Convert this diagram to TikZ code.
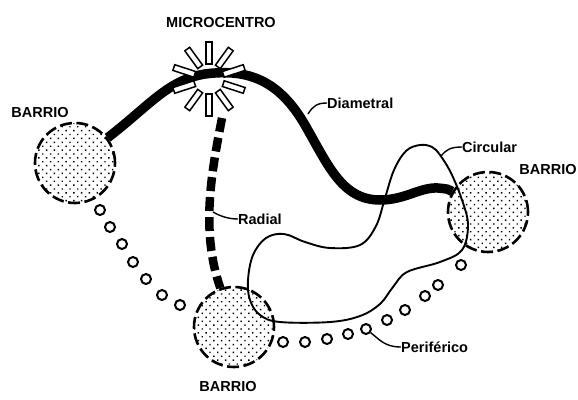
\documentclass[tikz,border=0pt]{standalone}
\usepackage{fontspec}
\setmainfont{Liberation Sans}
\usetikzlibrary{patterns.meta,calc}
\begin{document}
\begin{tikzpicture}[x=1pt,y=-1pt,
  barrio/.style={circle, draw, line width=2.6pt, dash pattern=on 12pt off 4.5pt,
    minimum size=80pt, inner sep=0pt,
    pattern={Dots[distance=5.5pt,radius=1pt,angle=45]}},
  lbl/.style={font=\bfseries\fontsize{14.5}{14.5}\selectfont, inner sep=0pt},
  ring/.style={circle, draw, line width=2pt, fill=white, minimum size=10pt, inner sep=0pt},
  rayb/.style={rectangle, draw, line width=1.5pt, fill=white, minimum width=22pt, minimum height=6pt, inner sep=0pt},
  diam/.style={line width=9.5pt, line cap=butt},
  radl/.style={line width=8.5pt, dash pattern=on 14pt off 6pt},
  thin/.style={line width=1.9pt, line join=round},
  leader/.style={line width=1.4pt}
]
\useasboundingbox (0,0) rectangle (578,399);

% barrios
\node[barrio] (bl) at (75,163) {};
\node[barrio] (bb) at (234,327) {};
\node[barrio] (br) at (488,212) {};

% labels
\node[lbl] (tmc) at (221,23) {MICROCENTRO};
\node[lbl] (tbl) at (40,113) {BARRIO};
\node[lbl] (tbb) at (228,387) {BARRIO};
\node[lbl] (tbr) at (548,170) {BARRIO};
\node[lbl, anchor=west] (tdi) at (327,103) {Diametral};
\node[lbl, anchor=west] (tra) at (238,219) {Radial};
\node[lbl, anchor=west] (tci) at (462,147) {Circular};
\node[lbl, anchor=west] (tpe) at (401,347) {Periférico};

% microcentro centre
\node[circle, minimum size=30pt, inner sep=0pt] (mc) at (209,79) {};
\coordinate (rs) at (222,118);

% circular loop
\draw[thin] plot[smooth cycle, tension=0.6] coordinates {
 (420,145) (406,151) (394,170) (385,198) (376,226) (360,245) (330,248)
 (305,242) (284,234) (266,238) (253,255) (248,280) (250,300) (260,315)
 (280,322) (330,322) (360,316) (380,304) (393,287) (407,272) (440,262)
 (462,250) (468,225) (462,200) (451,173) (440,155) (432,147)};

% diametral
\draw[diam] (bl) .. controls (150,105) and (168,80) .. (205,74)
  .. controls (250,68) and (280,82) .. (305,125)
  .. controls (328,165) and (342,200) .. (380,200)
  .. controls (405,200) and (420,187) .. (438,188)
  .. controls (448,189) .. (br);

% radial
\draw[radl] (rs) .. controls (212,170) and (200,230) .. (bb);

% starburst rays
\foreach \a [count=\i] in {18,54,90,126,162,198,234,270,306,342}
  \node[rayb, rotate=\a] (ray\i) at ($(mc)+(\a:26pt)$) {};

% left ring chain
\foreach \p [count=\i] in {(100,210),(110,227),(122,244),(133,262),(146,279),(162,295),(180,305)}
  \node[ring] (lr\i) at \p {};

% periferico rings
\foreach \p [count=\i] in {(283,342),(305,342),(327,339),(348,334),(366,329),(387,320),(405,310),(425,296),(438,285),(461,265)}
  \node[ring] (pr\i) at \p {};

% leaders
\coordinate (ldi) at (308,114);
\coordinate (lra) at (213,212);
\coordinate (lci) at (441,156);
\draw[leader] (tdi.west) .. controls (317,103) and (313,106) .. (ldi);
\draw[leader] (tra.west) .. controls (228,219) and (220,216) .. (lra);
\draw[leader] (tci.west) .. controls (450,147) and (446,150) .. (lci);
\draw[leader] (pr5) .. controls (380,340) and (385,347) .. (tpe.west);
\end{tikzpicture}
\end{document}
